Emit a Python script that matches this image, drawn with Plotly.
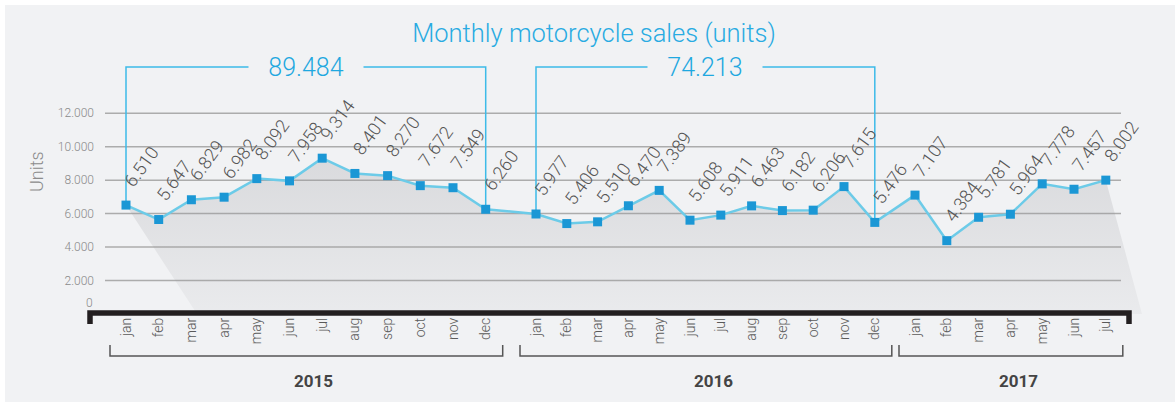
import plotly.graph_objects as go

# ---------------- data ----------------
years = ["2015", "2016", "2017"]
months = ["jan", "feb", "mar", "apr", "may", "jun", "jul", "aug", "sep", "oct", "nov", "dec"]
sales_2015 = [6510, 5647, 6829, 6982, 8092, 7958, 9314, 8401, 8270, 7672, 7549, 6260]
sales_2016 = [5977, 5406, 5510, 6470, 7389, 5608, 5911, 6463, 6182, 6206, 7615, 5476]
sales_2017 = [7107, 4384, 5781, 5964, 7778, 7457, 8002]
y_ticks = [2000, 4000, 6000, 8000, 10000, 12000]
bracket_years = ["2015", "2016"]  # years with a total bracket on top

series = [sales_2015, sales_2016, sales_2017]

# ---------------- layout (pixel based x axis) ----------------
W, H = 1175, 402
L, R, T, B = 100, 1150, 40, 314
YEAR_START_PX = [126, 536, 915]     # where each year's first month sits
YEAR_STEP_PX = [32.7, 30.8, 31.8]   # month spacing within each year
PX_PER_Y = 33.46 / 2000


def pxx(px):
    return (px - L) / (R - L)


def pxy(py):
    return (B - py) / (B - T)


def datay(py):
    return (B - py) / PX_PER_Y


def fmt(v):
    return f"{v:,}".replace(",", ".")


BG = "#f1f2f4"
xs, vals, labels, year_pos = [], [], [], {}
for yi, (yr, s) in enumerate(zip(years, series)):
    pos = [YEAR_START_PX[yi] + i * YEAR_STEP_PX[yi] for i in range(len(s))]
    year_pos[yr] = pos
    xs += pos
    vals += s
    labels += months[:len(s)]

fig = go.Figure()

# shaded "shadow" area
fig.add_trace(go.Scatter(
    x=xs + [1142, 197],
    y=vals + [0, 0],
    fill="toself", mode="lines", line=dict(width=0),
    fillgradient=dict(type="vertical",
                      colorscale=[[0, "rgba(150,150,155,0.08)"], [1, "rgba(150,150,155,0.26)"]]),
    hoverinfo="skip", showlegend=False))

# line + markers
fig.add_trace(go.Scatter(
    x=xs, y=vals, mode="lines+markers",
    line=dict(color="#6ccbe8", width=2.5),
    marker=dict(symbol="square", size=9, color="#1b97d5"),
    showlegend=False, hoverinfo="skip"))

shapes = []
# background panel
shapes.append(dict(type="rect", xref="paper", yref="paper",
                   x0=pxx(5), x1=pxx(W + 5), y0=pxy(H + 5), y1=pxy(5),
                   fillcolor=BG, line=dict(width=0), layer="below"))
# gridlines
for t in y_ticks:
    shapes.append(dict(type="line", xref="paper", yref="y",
                       x0=pxx(105), x1=pxx(1121), y0=t, y1=t,
                       line=dict(color="#acacac", width=1.5), layer="below"))
# black axis bar
shapes.append(dict(type="path", xref="paper", yref="paper",
                   path=f"M {pxx(90)},{pxy(324)} L {pxx(90)},{pxy(313)} L {pxx(1129)},{pxy(313)} L {pxx(1129)},{pxy(324)}",
                   line=dict(color="#231f20", width=5.5)))
# year brackets below
for yr in years:
    p = year_pos[yr]
    x0, x1 = p[0] - 16, p[-1] + 17
    shapes.append(dict(type="path", xref="x", yref="paper",
                       path=f"M {x0},{pxy(345)} L {x0},{pxy(356)} L {x1},{pxy(356)} L {x1},{pxy(345)}",
                       line=dict(color="#555555", width=1.5)))
# total brackets on top
ytop = datay(67)
annotations = []
for yr in bracket_years:
    i = years.index(yr)
    p = year_pos[yr]
    s = series[i]
    shapes.append(dict(type="path", xref="x", yref="y",
                       path=f"M {p[0]},{s[0]} L {p[0]},{ytop} L {p[-1]},{ytop} L {p[-1]},{s[-1]}",
                       line=dict(color="#3dbbe8", width=1.5), layer="below"))
    annotations.append(dict(x=(p[0] + p[-1]) / 2, y=ytop, xref="x", yref="y",
                            text="\u00a0\u00a0\u00a0" + fmt(sum(s)) + "\u00a0\u00a0\u00a0",
                            showarrow=False, bgcolor=BG,
                            font=dict(family="Roboto", size=25, color="#1fa8e0", weight=300)))

# data labels
for x, v in zip(xs, vals):
    annotations.append(dict(x=x, y=v, xref="x", yref="y", text=fmt(v), showarrow=False,
                            textangle=-54, xanchor="left", yanchor="bottom",
                            xshift=-9, yshift=12,
                            font=dict(family="Roboto", size=18, color="#555555", weight=300)))

# year labels
for yr in years:
    p = year_pos[yr]
    annotations.append(dict(x=(p[0] + p[-1]) / 2 + 8, y=pxy(381), xref="x", yref="paper",
                            text=f"<b>{yr}</b>", showarrow=False, yanchor="middle",
                            font=dict(family="Liberation Sans Narrow, Roboto, sans-serif",
                                      size=17, color="#444444")))

# "0" tick label and axis title
annotations.append(dict(x=pxx(95), y=pxy(303), xref="paper", yref="paper", text="0",
                        showarrow=False, xanchor="right", yanchor="middle",
                        font=dict(family="Roboto", size=12, color="#8a8a8a", weight=300)))
annotations.append(dict(x=pxx(36), y=pxy(172), xref="paper", yref="paper", text="Units",
                        showarrow=False, textangle=-90, xanchor="center", yanchor="middle",
                        font=dict(family="Roboto", size=18, color="#8c8c8c", weight=300)))

fig.update_layout(
    width=W, height=H,
    margin=dict(l=L, r=W - R, t=T, b=H - B),
    paper_bgcolor="white", plot_bgcolor="rgba(0,0,0,0)",
    separators=",.",
    title=dict(text="Monthly motorcycle sales (units)", x=594 / W, xanchor="center",
               y=1 - 33 / H, yanchor="middle",
               font=dict(family="Roboto", size=25.5, color="#29abe2", weight=300)),
    xaxis=dict(range=[L, R], showgrid=False, zeroline=False, showline=False,
               tickvals=xs, ticktext=labels, tickangle=-90, ticks="",
               tickfont=dict(family="Roboto", size=14, color="#5a5a5a", weight=300)),
    yaxis=dict(range=[0, datay(T)], showgrid=False, zeroline=False, showline=False,
               tickvals=y_ticks, tickformat=",d", ticks="", ticklabelstandoff=5,
               tickfont=dict(family="Roboto", size=12, color="#8a8a8a", weight=300)),
    shapes=shapes, annotations=annotations,
)

fig.write_html("out.html", config={"displayModeBar": False},
               post_script="document.body.style.margin='0';document.body.style.padding='0';")
